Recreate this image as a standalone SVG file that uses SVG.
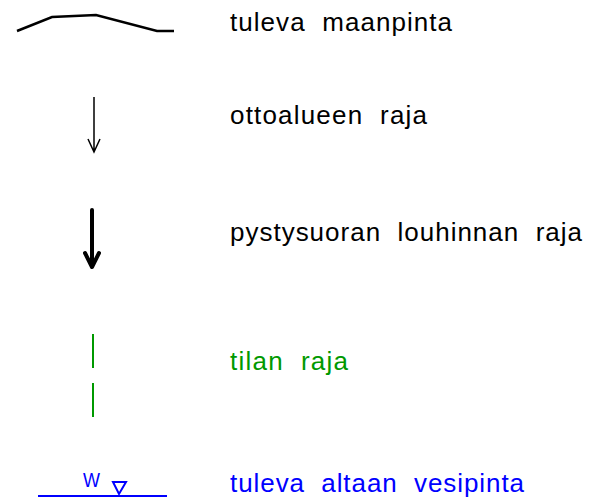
<svg xmlns="http://www.w3.org/2000/svg" width="592" height="500" viewBox="0 0 592 500">
<style>
text{font-family:"Liberation Sans",Arial,sans-serif;font-size:26px;white-space:pre;}
.k{fill:#000;}
.g{fill:#009900;}
.b{fill:#0000ff;}
</style>
<rect width="592" height="500" fill="#fff"/>
<g id="ground">
<polyline points="17,31 52,17 96,15 157,31 174,31" fill="none" stroke="#000" stroke-width="2.5"/>
<text class="k" x="230" y="31" textLength="222" lengthAdjust="spacing" xml:space="preserve">tuleva  maanpinta</text>
</g>
<g id="otto">
<path d="M94,97 V152 M88,139 L94,152 L100,139" fill="none" stroke="#000" stroke-width="1.5"/>
<text class="k" x="230" y="124" textLength="197" lengthAdjust="spacing" xml:space="preserve">ottoalueen  raja</text>
</g>
<g id="louhinta">
<path d="M92,210 V266 M85,253 L92,267 L99,253" fill="none" stroke="#000" stroke-width="4" stroke-linejoin="round" stroke-linecap="round"/>
<text class="k" x="230" y="241" textLength="352" lengthAdjust="spacing" xml:space="preserve">pystysuoran  louhinnan  raja</text>
</g>
<g id="tila">
<path d="M93,334 V368 M93,383 V417" fill="none" stroke="#009900" stroke-width="2"/>
<text class="g" x="230" y="370" textLength="118" lengthAdjust="spacing" xml:space="preserve">tilan  raja</text>
</g>
<g id="vesi">
<line x1="38" y1="496" x2="167" y2="496" stroke="#0000ff" stroke-width="2"/>
<text class="b" x="83" y="487" style="font-size:21px" textLength="17" lengthAdjust="spacingAndGlyphs">W</text>
<polygon points="113,482 126,482 119,494" fill="none" stroke="#0000ff" stroke-width="2"/>
<text class="b" x="230" y="492" textLength="294" lengthAdjust="spacing" xml:space="preserve">tuleva  altaan  vesipinta</text>
</g>
</svg>
